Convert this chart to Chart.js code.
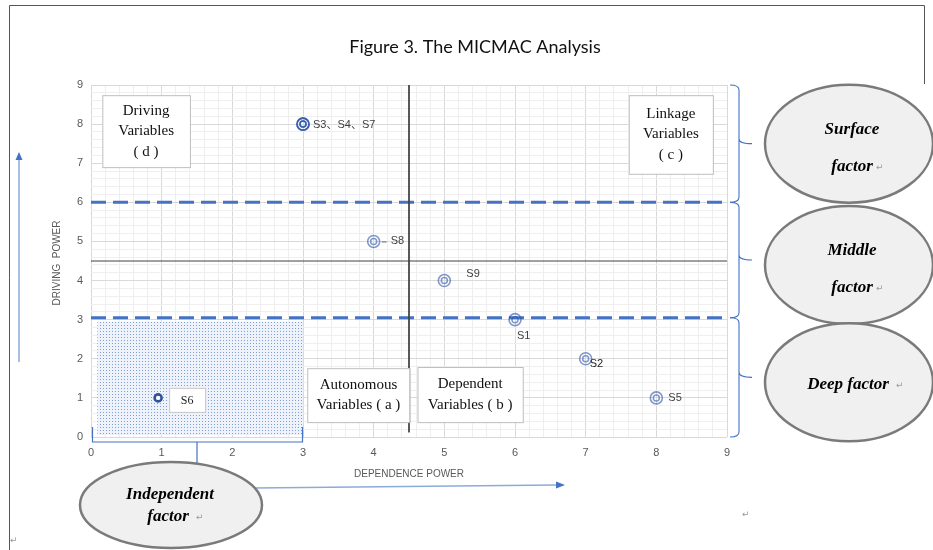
<!DOCTYPE html>
<html><head><meta charset="utf-8">
<script src="https://cdn.jsdelivr.net/npm/chart.js@4"></script>
<style>html,body{margin:0;padding:0;background:#fff;overflow:hidden}#wrap{width:933px;height:550px;position:relative}</style>
</head><body><div id="wrap"><canvas id="c" width="933" height="550"></canvas></div>
<script>
// ---- data ----
const variables = ['S1','S2','S3','S4','S5','S6','S7','S8','S9'];
const dependencePower = [6, 7, 3, 3, 8, 0.95, 3, 4, 5];
const drivingPower    = [3, 2, 8, 8, 1, 1,    8, 5, 4];
const axisMin = 0, axisMax = 9, minorStep = 0.2;
const quadrantSplitX = 4.5, quadrantSplitY = 4.5;
const levelLines = [6, 3.05];
const titleText = 'Figure 3. The MICMAC Analysis';
const xTitle = 'DEPENDENCE POWER';
const yTitle = 'DRIVING  POWER';
const quadrantBoxes = [
  {lines:['Driving','Variables','( d )'], x1:0.16, x2:1.4, y1:8.74, y2:6.9},
  {lines:['Linkage','Variables','( c )'], x1:7.61, x2:8.8, y1:8.74, y2:6.73},
  {lines:['Autonomous','Variables ( a )'], x1:3.06, x2:4.51, y1:1.76, y2:0.38},
  {lines:['Dependent','Variables ( b )'], x1:4.62, x2:6.11, y1:1.79, y2:0.38}
];
const levelNames = [
  {lines:['Surface','factor'], top:9, bottom:6},
  {lines:['Middle','factor'], top:6, bottom:3.05},
  {lines:['Deep factor'], top:3.05, bottom:0}
];
const independentRegion = {x1:0.09, x2:3, y1:0.05, y2:2.95};
const independentName = ['Independent','factor'];

// ---- helpers ----
const isInt = v => Math.abs(v - Math.round(v)) < 1e-6;
const main = [], s6 = [];
variables.forEach((n,i)=>{
  const p = {x:dependencePower[i], y:drivingPower[i], name:n};
  (n==='S6' ? s6 : main).push(p);
});
const labelStyle = { // offsets of point labels (px)
  S1:{dx:2,dy:16,align:'left'}, S2:{dx:4,dy:5,align:'left',color:'#222'},
  S3:{dx:10,dy:1,align:'left',text:'S3、S4、S7'}, S4:{skip:true}, S7:{skip:true},
  S5:{dx:12,dy:0,align:'left'}, S8:{dx:17,dy:0,align:'left',leader:true},
  S9:{dx:22,dy:-7,align:'left'}, S6:{box:true}
};
const BLUE = '#4472c4';

function dotPattern(ctx){
  const c = document.createElement('canvas'); c.width=3; c.height=3;
  const g = c.getContext('2d');
  g.fillStyle='#eef2fb'; g.fillRect(0,0,3,3);
  g.fillStyle='rgba(90,130,205,0.75)'; g.fillRect(1,1,1,1);
  return ctx.createPattern(c,'repeat');
}
function ellipse(ctx,cx,cy,rx,ry){
  ctx.save(); ctx.beginPath(); ctx.ellipse(cx,cy,rx,ry,0,0,Math.PI*2);
  ctx.fillStyle='#f0f0f0'; ctx.fill(); ctx.lineWidth=2.5; ctx.strokeStyle='#7a7a7a'; ctx.stroke(); ctx.restore();
}
function ret(ctx,x,y){ ctx.save(); ctx.font='9px "DejaVu Sans"'; ctx.fillStyle='#999'; ctx.textAlign='left'; ctx.textBaseline='middle'; ctx.fillText('↵',x,y); ctx.restore(); }
function brace(ctx,x0,xv,xt,y1,y2){
  const m=(y1+y2)/2;
  ctx.beginPath(); ctx.moveTo(x0,y1);
  ctx.quadraticCurveTo(xv,y1,xv,y1+5); ctx.lineTo(xv,m-5);
  ctx.quadraticCurveTo(xv,m,xt,m); ctx.moveTo(xv,m-5);
  ctx.quadraticCurveTo(xv,m,xv,m+5); ctx.lineTo(xv,y2-5);
  ctx.quadraticCurveTo(xv,y2,x0,y2); ctx.stroke();
}

const annotations = {
  id:'annotations',
  beforeDatasetsDraw(chart){
    const {ctx, scales:{x,y}} = chart;
    const r = independentRegion;
    ctx.save();
    ctx.fillStyle = dotPattern(ctx);
    ctx.fillRect(x.getPixelForValue(r.x1), y.getPixelForValue(r.y2), x.getPixelForValue(r.x2)-x.getPixelForValue(r.x1), y.getPixelForValue(r.y1)-y.getPixelForValue(r.y2));
    ctx.restore();
  },
  afterDatasetsDraw(chart){
    const {ctx, chartArea:a, scales:{x,y}} = chart;
    ctx.save();
    // quadrant boxes
    quadrantBoxes.forEach(b=>{
      const l=x.getPixelForValue(b.x1), rr=x.getPixelForValue(b.x2), t=y.getPixelForValue(b.y1), bt=y.getPixelForValue(b.y2);
      ctx.fillStyle='#fff'; ctx.fillRect(l,t,rr-l,bt-t);
      ctx.strokeStyle='#bfbfbf'; ctx.lineWidth=1; ctx.strokeRect(l+0.5,t+0.5,rr-l,bt-t);
      ctx.fillStyle='#111'; ctx.font='15px "Liberation Serif"'; ctx.textAlign='center'; ctx.textBaseline='middle';
      const lh = 20.5, cy=(t+bt)/2 - (b.lines.length-1)*lh/2;
      b.lines.forEach((s,i)=>ctx.fillText(s,(l+rr)/2,cy+i*lh));
    });
    // point labels
    ctx.font='11px "Liberation Sans", "Noto Sans CJK SC"'; ctx.textBaseline='middle';
    variables.forEach((n,i)=>{
      const st = labelStyle[n]; if(!st||st.skip) return;
      const px=x.getPixelForValue(dependencePower[i]), py=y.getPixelForValue(drivingPower[i]);
      if(st.box){
        const bx=px+11, by=py-10;
        ctx.fillStyle='#fff'; ctx.fillRect(bx,by,36,24);
        ctx.strokeStyle='#c8c8c8'; ctx.lineWidth=1; ctx.strokeRect(bx+0.5,by+0.5,36,24);
        ctx.fillStyle='#222'; ctx.textAlign='center'; ctx.font='12px "Liberation Serif"';
        ctx.fillText(n,bx+18,by+13);
        ctx.font='11px "Liberation Sans", "Noto Sans CJK SC"';
        return;
      }
      if(st.leader){ ctx.strokeStyle='#666'; ctx.lineWidth=1; ctx.beginPath(); ctx.moveTo(px+8,py+0.5); ctx.lineTo(px+13,py+0.5); ctx.stroke(); }
      ctx.fillStyle=st.color||'#404040'; ctx.textAlign=st.align;
      ctx.fillText(st.text||n, px+st.dx, py+st.dy);
    });
    ctx.restore();
  },
  afterDraw(chart){
    const {ctx, chartArea:a, scales:{x,y}} = chart;
    ctx.save();
    // page frame
    ctx.strokeStyle='#555'; ctx.lineWidth=1;
    ctx.beginPath(); ctx.moveTo(9.5,550); ctx.lineTo(9.5,5.5); ctx.lineTo(924.5,5.5); ctx.lineTo(924.5,84); ctx.stroke();
    ret(ctx,10,541); ret(ctx,742,515);
    // title
    ctx.fillStyle='#111'; ctx.font='18px Lato'; ctx.textAlign='center'; ctx.textBaseline='middle';
    ctx.fillText(titleText, 475, 47);
    // axis titles
    ctx.fillStyle='#595959'; ctx.font='10px "Liberation Sans"';
    ctx.fillText(xTitle, (a.left+a.right)/2, 474);
    ctx.save(); ctx.translate(57,(a.top+a.bottom)/2+2); ctx.rotate(-Math.PI/2); ctx.fillText(yTitle,0,0); ctx.restore();
    // left vertical arrow
    ctx.strokeStyle='#8eaadb'; ctx.lineWidth=1.5;
    ctx.beginPath(); ctx.moveTo(19,362); ctx.lineTo(19,160); ctx.stroke();
    ctx.fillStyle=BLUE; ctx.beginPath(); ctx.moveTo(19,152); ctx.lineTo(15.5,160); ctx.lineTo(22.5,160); ctx.closePath(); ctx.fill();
    // right braces
    ctx.strokeStyle=BLUE; ctx.lineWidth=1.1;
    levelNames.forEach(ln=>{
      const t=y.getPixelForValue(ln.top), b=y.getPixelForValue(ln.bottom);
      brace(ctx,a.right+3,a.right+12,a.right+25,t,b);
    });
    // right ellipses
    levelNames.forEach((ln,i)=>{
      const t=y.getPixelForValue(ln.top), b=y.getPixelForValue(ln.bottom);
      const cy=(t+b)/2 + (i===0?0:5);
      ellipse(ctx,849,cy,84,59);
      ctx.fillStyle='#000'; ctx.font='bold italic 17px "Liberation Serif"'; ctx.textAlign='center'; ctx.textBaseline='middle';
      if(ln.lines.length===2){
        ctx.fillText(ln.lines[0],852,cy-14);
        ctx.fillText(ln.lines[1],852,cy+23);
        ret(ctx,876,cy+24);
      } else {
        ctx.fillText(ln.lines[0],848,cy+2);
        ret(ctx,896,cy+3);
      }
    });
    // bottom bracket under independent region
    const bl=x.getPixelForValue(0)+1.5, br=x.getPixelForValue(independentRegion.x2)-0.5, by=a.bottom+5;
    ctx.strokeStyle=BLUE; ctx.lineWidth=1.2;
    ctx.beginPath(); ctx.moveTo(bl,a.bottom-10); ctx.lineTo(bl,by); ctx.lineTo(br,by); ctx.lineTo(br,a.bottom-10); ctx.stroke();
    const sx=x.getPixelForValue(1.5);
    ctx.beginPath(); ctx.moveTo(sx,by); ctx.lineTo(sx,463); ctx.stroke();
    // horizontal arrow
    ctx.strokeStyle='#8eaadb'; ctx.lineWidth=1.5;
    ctx.beginPath(); ctx.moveTo(254,488); ctx.lineTo(556,485); ctx.stroke();
    ctx.fillStyle=BLUE; ctx.beginPath(); ctx.moveTo(565,485); ctx.lineTo(556,481.5); ctx.lineTo(556,488.5); ctx.closePath(); ctx.fill();
    // independent ellipse
    ellipse(ctx,171,505,91,43);
    ctx.fillStyle='#000'; ctx.font='bold italic 17px "Liberation Serif"'; ctx.textAlign='center'; ctx.textBaseline='middle';
    ctx.fillText(independentName[0],170,495);
    ctx.fillText(independentName[1],168,517);
    ret(ctx,196,518);
    ctx.restore();
  }
};

const pointColor = 'rgba(47,85,170,0.6)';
new Chart(document.getElementById('c'), {
  type:'scatter',
  data:{datasets:[
    {label:'outer', data:main, pointRadius:6, pointHoverRadius:6, pointBorderWidth:1.6, pointBorderColor:pointColor, pointBackgroundColor:'rgba(0,0,0,0)', order:1},
    {label:'inner', data:main, pointRadius:3, pointHoverRadius:3, pointBorderWidth:1.5, pointBorderColor:pointColor, pointBackgroundColor:'rgba(0,0,0,0)', order:1},
    {label:'S6', data:s6, pointRadius:3.5, pointBorderWidth:2.6, pointBorderColor:'#2f5597', pointBackgroundColor:'#fff', order:1},
    {label:'vsplit', data:[{x:quadrantSplitX,y:axisMax},{x:quadrantSplitX,y:0.12}], showLine:true, borderColor:'#404040', borderWidth:1, pointRadius:0, order:2},
    {label:'hsplit', data:[{x:axisMin,y:quadrantSplitY},{x:axisMax,y:quadrantSplitY}], showLine:true, borderColor:'#404040', borderWidth:1, pointRadius:0, order:2},
    ...levelLines.map(v=>({label:'level'+v, data:[{x:axisMin,y:v},{x:8.95,y:v}], showLine:true, borderColor:BLUE, borderWidth:3, borderDash:[15,7], pointRadius:0, order:2}))
  ]},
  options:{
    responsive:false, animation:false, devicePixelRatio:1,
    layout:{padding:{left:51, right:206, top:85, bottom:73}},
    plugins:{legend:{display:false}, tooltip:{enabled:false}, title:{display:false}},
    events:[],
    scales:{
      x:{type:'linear', min:axisMin, max:axisMax,
        afterFit(s){ s.height=40; },
        ticks:{stepSize:minorStep, autoSkip:false, maxRotation:0, padding:9, color:'#595959', font:{family:'Liberation Sans', size:11},
          callback:v=>isInt(v)?String(Math.round(v)):''},
        grid:{drawTicks:false, color:c=>isInt(c.tick.value)?'#d9d9d9':'#efefef', lineWidth:1},
        border:{display:false}},
      y:{type:'linear', min:axisMin, max:axisMax,
        afterFit(s){ s.width=40; },
        ticks:{stepSize:minorStep, autoSkip:false, padding:8, color:'#595959', font:{family:'Liberation Sans', size:11},
          callback:v=>isInt(v)?String(Math.round(v)):''},
        grid:{drawTicks:false, color:c=>isInt(c.tick.value)?'#d9d9d9':'#efefef', lineWidth:1},
        border:{display:false}}
    }
  },
  plugins:[annotations]
});
</script></body></html>
